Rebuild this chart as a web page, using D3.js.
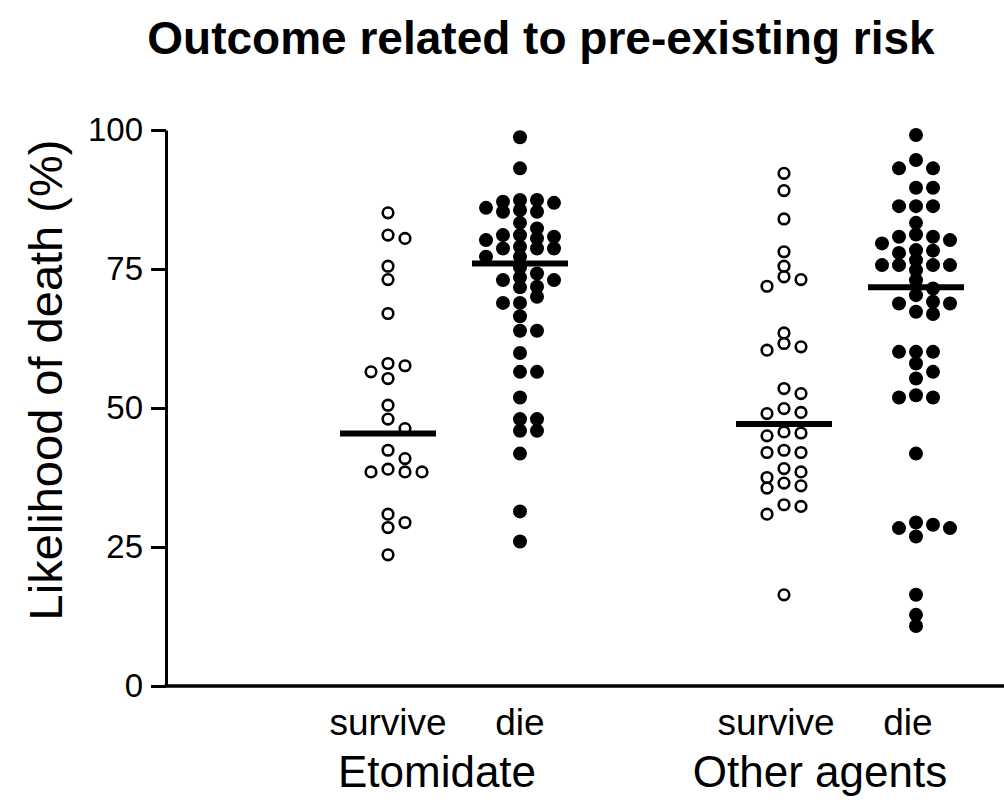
<!DOCTYPE html>
<html>
<head>
<meta charset="utf-8">
<script src="https://cdn.jsdelivr.net/npm/d3@7"></script>
<style>
  html, body { margin: 0; padding: 0; background: #fff; }
  svg { display: block; font-family: "Liberation Sans", Arial, sans-serif; }
</style>
</head>
<body>
<svg id="chart" width="1004" height="806"></svg>
<script>
// ---- data ----
const title = "Outcome related to pre-existing risk";
const yLabel = "Likelihood of death (%)";
const groups = ["Etomidate", "Other agents"];
const outcomes = ["survive", "die"];
const yTicks = [0, 25, 50, 75, 100];

const etomidateSurvive = [85.1, 81.1, 80.5, 75.5, 73.1, 67.0, 58.0, 57.6, 56.5, 55.3, 50.5, 48.0, 46.3,
  42.4, 40.9, 39.0, 38.5, 38.5, 38.5, 30.9, 29.4, 28.5, 23.6];
const etomidateDie = [98.7, 93.1, 87.4, 87.4, 87.1, 86.9, 86.0, 85.6, 85.3, 85.3, 83.3, 82.3, 81.1, 81.1,
  80.8, 80.5, 80.2, 79.0, 78.7, 78.7, 78.7, 77.2, 77.2, 75.3, 74.2, 73.5, 73.0, 73.0, 71.8, 71.7, 70.0,
  68.9, 68.9, 66.5, 63.9, 63.9, 59.9, 56.5, 56.5, 51.9, 48.0, 48.0, 45.9, 45.9, 41.8, 31.4, 26.0];
const otherSurvive = [92.2, 89.1, 84.0, 78.1, 75.5, 73.6, 73.1, 71.9, 63.5, 61.6, 61.0, 60.4, 53.5, 52.6,
  49.9, 49.2, 49.0, 45.7, 45.5, 45.0, 42.4, 42.0, 42.0, 39.1, 38.5, 37.5, 36.5, 36.0, 35.6, 32.6, 32.3,
  30.9, 16.4];
const otherDie = [99.1, 94.6, 93.1, 93.1, 89.6, 89.6, 86.3, 86.3, 86.3, 83.3, 81.2, 80.8, 80.8, 80.2, 79.6,
  78.4, 78.3, 77.9, 76.6, 75.7, 75.7, 75.7, 75.7, 74.8, 73.0, 71.5, 70.3, 69.1, 68.8, 68.8, 67.3, 66.9,
  60.1, 60.1, 60.1, 58.0, 56.5, 55.3, 52.3, 51.9, 51.9, 41.8, 29.4, 29.0, 28.4, 28.4, 26.9, 16.4, 12.8, 10.8];
const medians = [45.4, 76.0, 47.1, 71.7];

// columns: group index, outcome index, values
const columns = [
  { group: 0, outcome: 0, values: etomidateSurvive, median: medians[0] },
  { group: 0, outcome: 1, values: etomidateDie, median: medians[1] },
  { group: 1, outcome: 0, values: otherSurvive, median: medians[2] },
  { group: 1, outcome: 1, values: otherDie, median: medians[3] }
];

// ---- layout ----
const svg = d3.select("#chart");
const plotLeft = 166, plotRight = 1004, plotTop = 130, plotBottom = 686;

const y = d3.scaleLinear().domain([0, 100]).range([plotBottom, plotTop]);
// column position: group*3 + outcome + 1  -> 1,2,4,5
const x = d3.scaleLinear().domain([1, 5]).range([388, 916]);
const colPos = c => c.group * 3 + c.outcome + 1;

const slotW = 17;      // horizontal spacing of dodged points
const minDist = 9.5;   // px vertical distance for same slot
const slotOrder = [0, 1, -1, 2, -2, 3, -3, 4, -4];

function dodge(values) {
  const sorted = values.slice().sort((a, b) => b - a);
  const placed = [];
  sorted.forEach(v => {
    const py = y(v);
    let slot = 0;
    for (const s of slotOrder) {
      const clash = placed.some(p => p.slot === s && Math.abs(p.py - py) < minDist);
      if (!clash) { slot = s; break; }
    }
    placed.push({ v, py, slot });
  });
  return placed;
}

// Title
svg.append("text")
  .attr("x", 541).attr("y", 54)
  .attr("text-anchor", "middle")
  .attr("font-size", 46).attr("font-weight", "bold")
  .text(title);

// Y axis
const yAxis = d3.axisLeft(y).tickValues(yTicks).tickSize(15).tickSizeOuter(0).tickPadding(8);
const gy = svg.append("g").attr("transform", `translate(${plotLeft},0)`).call(yAxis);
gy.select(".domain").attr("stroke", "#000").attr("stroke-width", 3);
gy.selectAll(".tick line").attr("stroke", "#000").attr("stroke-width", 3);
gy.selectAll(".tick text").attr("font-size", 33).attr("fill", "#000")
  .attr("font-family", "Liberation Sans, Arial, sans-serif");

// X axis line
svg.append("line")
  .attr("x1", plotLeft - 1.5).attr("x2", plotRight)
  .attr("y1", y(0)).attr("y2", y(0))
  .attr("stroke", "#000").attr("stroke-width", 3.5);

// Y label
svg.append("text")
  .attr("transform", `translate(62,380) rotate(-90)`)
  .attr("text-anchor", "middle")
  .attr("font-size", 47)
  .text(yLabel);

// Points
columns.forEach(c => {
  const cx = x(colPos(c));
  const pts = dodge(c.values);
  const g = svg.append("g");
  g.selectAll("circle").data(pts).join("circle")
    .attr("cx", d => cx + d.slot * slotW)
    .attr("cy", d => d.py)
    .attr("r", c.outcome === 0 ? 5.3 : 7)
    .attr("fill", c.outcome === 0 ? "#fff" : "#000")
    .attr("stroke", "#000")
    .attr("stroke-width", c.outcome === 0 ? 2.6 : 0);
  // median bar
  svg.append("line")
    .attr("x1", cx - 48).attr("x2", cx + 48)
    .attr("y1", y(c.median)).attr("y2", y(c.median))
    .attr("stroke", "#000").attr("stroke-width", 6);
});

// Category labels
columns.forEach(c => {
  svg.append("text")
    .attr("x", x(colPos(c)) - (c.group === 1 ? 8 : 0))
    .attr("y", 735)
    .attr("text-anchor", "middle")
    .attr("font-size", 37)
    .text(outcomes[c.outcome]);
});
groups.forEach((gname, i) => {
  const mid = (x(i * 3 + 1) + x(i * 3 + 2)) / 2;
  svg.append("text")
    .attr("x", mid - (i === 0 ? 17 : 30))
    .attr("y", 787)
    .attr("text-anchor", "middle")
    .attr("font-size", 44)
    .text(gname);
});
</script>
</body>
</html>
